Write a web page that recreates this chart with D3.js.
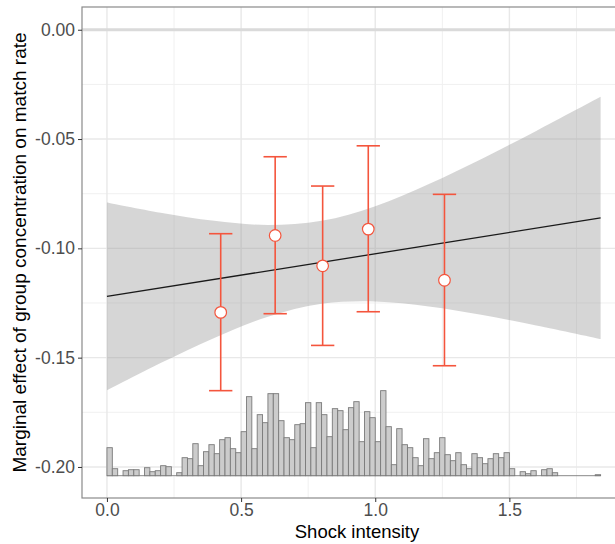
<!DOCTYPE html>
<html><head><meta charset="utf-8">
<script src="https://cdn.jsdelivr.net/npm/d3@7"></script>
<style>
html,body{margin:0;padding:0;background:#fff;overflow:hidden}
svg{display:block;font-family:"Liberation Sans",Arial,Helvetica,sans-serif}
</style></head>
<body>
<svg id="chart" width="615" height="544"></svg>
<script>
// ---------------- data ----------------
const xTicks = [0, 0.5, 1.0, 1.5];
const xTickLabels = ["0.0", "0.5", "1.0", "1.5"];
const xMinor = [0.25, 0.75, 1.25, 1.75];
const yTicks = [0, -0.05, -0.10, -0.15, -0.20];
const yTickLabels = ["0.00", "-0.05", "-0.10", "-0.15", "-0.20"];
const yMinor = [-0.025, -0.075, -0.125, -0.175];

// binned estimates (points with 95% CI)
const pointX = [0.424, 0.627, 0.804, 0.974, 1.258];
const pointY = [-0.1293, -0.0941, -0.1080, -0.0912, -0.1146];
const pointLo = [-0.1651, -0.1299, -0.1444, -0.1290, -0.1537];
const pointHi = [-0.0933, -0.0581, -0.0715, -0.0531, -0.0753];

// linear marginal effect + confidence band
const lineX = [0, 1.84];
const lineY = [-0.1220, -0.0861];
const bandX = [0, 0.2, 0.4, 0.6, 0.8, 1.0, 1.2, 1.4, 1.6, 1.84];
const bandUpper = [-0.0790, -0.0837, -0.0874, -0.0893, -0.0874, -0.0807, -0.0706, -0.0589, -0.0463, -0.0307];
const bandLower = [-0.1650, -0.1525, -0.1410, -0.1313, -0.1254, -0.1243, -0.1266, -0.1305, -0.1353, -0.1415];

// distribution of shock intensity (histogram, bin width 0.02 from 0)
const histStart = 0;
const histBinWidth = 0.02;
const histCounts = [28,7,0,5,6,6,0,8,4,5,10,9,0,3,18,17,32,10,24,31,22,36,38,27,23,44,79,27,61,53,
  82,82,55,38,36,51,52,73,28,73,61,39,67,65,46,68,74,34,64,58,34,85,49,11,47,31,28,18,10,37,
  17,23,38,21,15,23,11,7,22,18,12,17,22,18,23,7,0,4,2,5,0,6,7,3,0,0,0,0,0,0,0,1];
const histBase = -0.204;
const histMaxHeight = 0.0389;

const xTitle = "Shock intensity";
const yTitle = "Marginal effect of group concentration on match rate";

// ---------------- layout ----------------
const svg = d3.select("#chart");
const panel = {left: 82, right: 632, top: 7, bottom: 498};
const x = d3.scaleLinear().domain([-0.093, 1.957]).range([panel.left, panel.right]);
const y = d3.scaleLinear().domain([-0.2142, 0.0104]).range([panel.bottom, panel.top]);
const hScale = d3.scaleLinear().domain([0, d3.max(histCounts)]).range([0, histMaxHeight]);

const red = "#F4553D";

const g = svg.append("g");
// grid
g.selectAll(".xminor").data(xMinor).join("line")
  .attr("x1", d => x(d)).attr("x2", d => x(d)).attr("y1", panel.top).attr("y2", panel.bottom)
  .attr("stroke", "#f0f0f0").attr("stroke-width", 1);
g.selectAll(".yminor").data(yMinor).join("line")
  .attr("y1", d => y(d)).attr("y2", d => y(d)).attr("x1", panel.left).attr("x2", panel.right)
  .attr("stroke", "#f0f0f0").attr("stroke-width", 1);
g.selectAll(".xmajor").data(xTicks).join("line")
  .attr("x1", d => x(d)).attr("x2", d => x(d)).attr("y1", panel.top).attr("y2", panel.bottom)
  .attr("stroke", "#e8e8e8").attr("stroke-width", 1.4);
g.selectAll(".ymajor").data(yTicks).join("line")
  .attr("y1", d => y(d)).attr("y2", d => y(d)).attr("x1", panel.left).attr("x2", panel.right)
  .attr("stroke", "#e8e8e8").attr("stroke-width", 1.4);

// zero reference line
g.append("line").attr("x1", panel.left).attr("x2", panel.right)
  .attr("y1", y(0)).attr("y2", y(0)).attr("stroke", "#dadada").attr("stroke-width", 3);

// confidence band
const bandData = bandX.map((v, i) => ({x: v, lo: bandLower[i], hi: bandUpper[i]}));
g.append("path").datum(bandData)
  .attr("d", d3.area().x(d => x(d.x)).y0(d => y(d.lo)).y1(d => y(d.hi)).curve(d3.curveCatmullRom))
  .attr("fill", "#999999").attr("fill-opacity", 0.4);

// histogram baseline (zero-count bins show as outline only)
g.append("line")
  .attr("x1", x(histStart)).attr("x2", x(histStart + histCounts.length * histBinWidth))
  .attr("y1", y(histBase)).attr("y2", y(histBase))
  .attr("stroke", "#7a7a7a").attr("stroke-width", 0.9);
// histogram bars
g.selectAll(".bar").data(histCounts).join("rect")
  .attr("x", (d, i) => x(histStart + i * histBinWidth))
  .attr("width", (d, i) => x(histStart + (i + 1) * histBinWidth) - x(histStart + i * histBinWidth))
  .attr("y", d => y(histBase + hScale(d)))
  .attr("height", d => y(histBase) - y(histBase + hScale(d)))
  .attr("fill", "#cccccc").attr("stroke", "#7a7a7a").attr("stroke-width", 0.9);

// regression line
g.append("path").datum(lineX.map((v, i) => [v, lineY[i]]))
  .attr("d", d3.line().x(d => x(d[0])).y(d => y(d[1])))
  .attr("fill", "none").attr("stroke", "#1a1a1a").attr("stroke-width", 1.3);

// error bars
const pts = pointX.map((v, i) => ({x: v, y: pointY[i], lo: pointLo[i], hi: pointHi[i]}));
const capW = 0.0435;
const eb = g.selectAll(".eb").data(pts).join("g");
eb.append("line").attr("x1", d => x(d.x)).attr("x2", d => x(d.x))
  .attr("y1", d => y(d.lo)).attr("y2", d => y(d.hi)).attr("stroke", red).attr("stroke-width", 1.6);
eb.append("line").attr("x1", d => x(d.x - capW)).attr("x2", d => x(d.x + capW))
  .attr("y1", d => y(d.lo)).attr("y2", d => y(d.lo)).attr("stroke", red).attr("stroke-width", 1.6);
eb.append("line").attr("x1", d => x(d.x - capW)).attr("x2", d => x(d.x + capW))
  .attr("y1", d => y(d.hi)).attr("y2", d => y(d.hi)).attr("stroke", red).attr("stroke-width", 1.6);
eb.append("circle").attr("cx", d => x(d.x)).attr("cy", d => y(d.y)).attr("r", 5.8)
  .attr("fill", "#fff").attr("stroke", red).attr("stroke-width", 1.2);

// panel border
g.append("rect").attr("x", panel.left).attr("y", panel.top)
  .attr("width", panel.right - panel.left).attr("height", panel.bottom - panel.top)
  .attr("fill", "none").attr("stroke", "#8a8a8a").attr("stroke-width", 1.2);

// axes
const xAxis = d3.axisBottom(x).tickValues(xTicks).tickFormat((d, i) => xTickLabels[i])
  .tickSize(4).tickPadding(2);
const gx = svg.append("g").attr("transform", `translate(0,${panel.bottom})`).call(xAxis);
gx.select(".domain").remove();
gx.selectAll(".tick line").attr("stroke", "#333").attr("stroke-width", 1);
gx.selectAll(".tick text").attr("fill", "#4d4d4d").attr("font-size", 17.5)
  .attr("font-family", "Liberation Sans, Arial, sans-serif");

const yAxis = d3.axisLeft(y).tickValues(yTicks).tickFormat((d, i) => yTickLabels[i])
  .tickSize(4).tickPadding(3);
const gy = svg.append("g").attr("transform", `translate(${panel.left},0)`).call(yAxis);
gy.select(".domain").remove();
gy.selectAll(".tick line").attr("stroke", "#333").attr("stroke-width", 1);
gy.selectAll(".tick text").attr("fill", "#4d4d4d").attr("font-size", 17.5)
  .attr("font-family", "Liberation Sans, Arial, sans-serif");

// titles
svg.append("text").attr("x", (panel.left + panel.right) / 2).attr("y", 538)
  .attr("text-anchor", "middle").attr("font-size", 18.5).attr("fill", "#000").text(xTitle);
svg.append("text").attr("transform", `translate(26,${(panel.top + panel.bottom) / 2}) rotate(-90)`)
  .attr("text-anchor", "middle").attr("font-size", 19).attr("fill", "#000").text(yTitle);
</script>
</body></html>
